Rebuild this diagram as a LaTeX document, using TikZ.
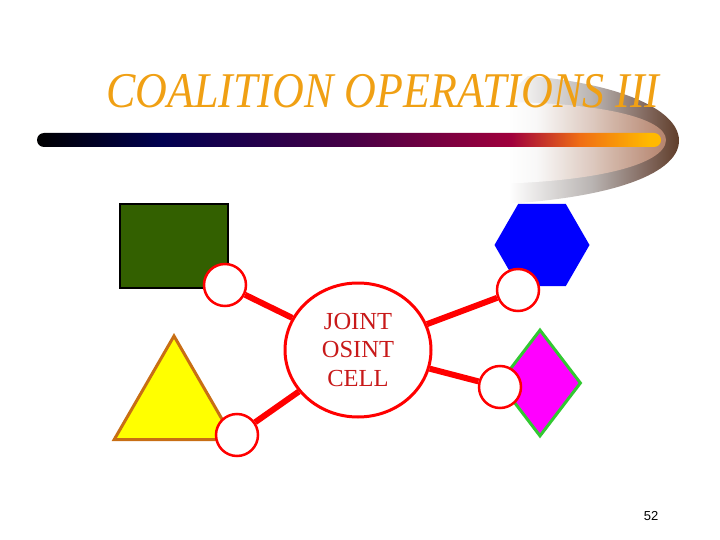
\documentclass[tikz,border=0pt]{standalone}
\usepackage{fontspec}
\setmainfont{Liberation Serif}
\newfontfamily\numfont{Liberation Sans}
\usetikzlibrary{shapes.geometric}
\definecolor{titleor}{RGB}{240,160,20}
\definecolor{bnavy}{RGB}{0,0,80}
\definecolor{bpurple}{RGB}{70,0,70}
\definecolor{bcrimson}{RGB}{160,0,60}
\definecolor{borange}{RGB}{240,110,20}
\definecolor{byellow}{RGB}{255,185,0}
\definecolor{sgray}{RGB}{185,180,178}
\definecolor{sbrown}{RGB}{130,105,95}
\definecolor{sdark}{RGB}{95,60,40}
\definecolor{itan}{RGB}{225,190,172}
\definecolor{itan2}{RGB}{205,150,125}
\definecolor{dkgreen}{RGB}{51,96,0}
\definecolor{triborder}{RGB}{200,110,20}
\definecolor{dgreen}{RGB}{50,200,50}
\definecolor{celltext}{RGB}{200,25,25}
\definecolor{pureyellow}{RGB}{255,255,0}
\definecolor{puremagenta}{RGB}{255,0,255}
\definecolor{pureblue}{RGB}{0,0,255}
\definecolor{purered}{RGB}{255,0,0}
\pgfdeclarehorizontalshading{barshade}{100bp}{color(0bp)=(black); color(25bp)=(black); color(35bp)=(bnavy); color(50bp)=(bpurple); color(63bp)=(bcrimson); color(68.5bp)=(borange); color(74bp)=(byellow); color(100bp)=(byellow)}
\pgfdeclarehorizontalshading{swooshshade}{100bp}{color(0bp)=(white); color(25bp)=(white); color(40bp)=(white); color(57bp)=(sgray); color(68bp)=(sbrown); color(75bp)=(sdark); color(100bp)=(sdark)}
\pgfdeclarehorizontalshading{innershade}{100bp}{color(0bp)=(white); color(25bp)=(white); color(45bp)=(white); color(63bp)=(itan); color(75bp)=(itan2); color(100bp)=(itan2)}
\tikzset{
  hub/.style={circle, draw=purered, line width=2.5pt, fill=white, minimum size=42pt, inner sep=0pt},
  cellnode/.style={ellipse, draw=purered, line width=3pt, fill=white, minimum width=146pt, minimum height=134pt, inner sep=0pt, align=center, text=celltext, font=\fontsize{24.5}{28.5}\selectfont},
  link/.style={draw=purered, line width=6pt}
}
\begin{document}
\begin{tikzpicture}[x=1pt,y=-1pt]
\useasboundingbox (0,0) rectangle (720,540);
% swoosh and bar
\shade[shading=swooshshade] (435,206) .. controls (600,206) and (680,176) .. (679,140) .. controls (678,108) and (615,83) .. (528,76) .. controls (490,110) and (465,160) .. cycle;
\shade[shading=innershade, opacity=0.75] (450,184) .. controls (590,186) and (666,165) .. (666,140) .. controls (666,118) and (600,102) .. (495,102) .. controls (475,130) and (462,160) .. cycle;
\node[text=titleor, font=\fontsize{50}{56}\selectfont\itshape, xscale=0.88, inner sep=0pt] (title) at (383,91) {COALITION OPERATIONS III};
\shade[shading=barshade, rounded corners=7pt] (37,133) rectangle (661,147);
% shapes
\node[rectangle, draw=black, line width=2pt, fill=dkgreen, minimum width=108pt, minimum height=84pt, inner sep=0pt] (rect) at (174,246) {};
\node[regular polygon, regular polygon sides=6, fill=pureblue, minimum size=95pt, inner sep=0pt] (hex) at (542,245) {};
\node[regular polygon, regular polygon sides=3, draw=triborder, line width=3pt, fill=pureyellow, minimum size=138pt, inner sep=0pt] (tri) at (174,405) {};
\node[diamond, draw=dgreen, line width=3pt, fill=puremagenta, minimum width=82pt, minimum height=107pt, inner sep=0pt] (dia) at (540,383) {};
% hub circles
\node[cellnode] (cell) at (358,350) {JOINT\\OSINT\\CELL};
\node[hub] (h1) at (225,285) {};
\node[hub] (h2) at (237,435) {};
\node[hub] (h3) at (518,290) {};
\node[hub] (h4) at (500,387) {};
\draw[link] (h1) -- (cell);
\draw[link] (h2) -- (cell);
\draw[link] (h3) -- (cell);
\draw[link] (h4) -- (cell);
\node[font=\numfont\fontsize{13}{15}\selectfont, inner sep=0pt] (num) at (651,516) {52};
\end{tikzpicture}
\end{document}
